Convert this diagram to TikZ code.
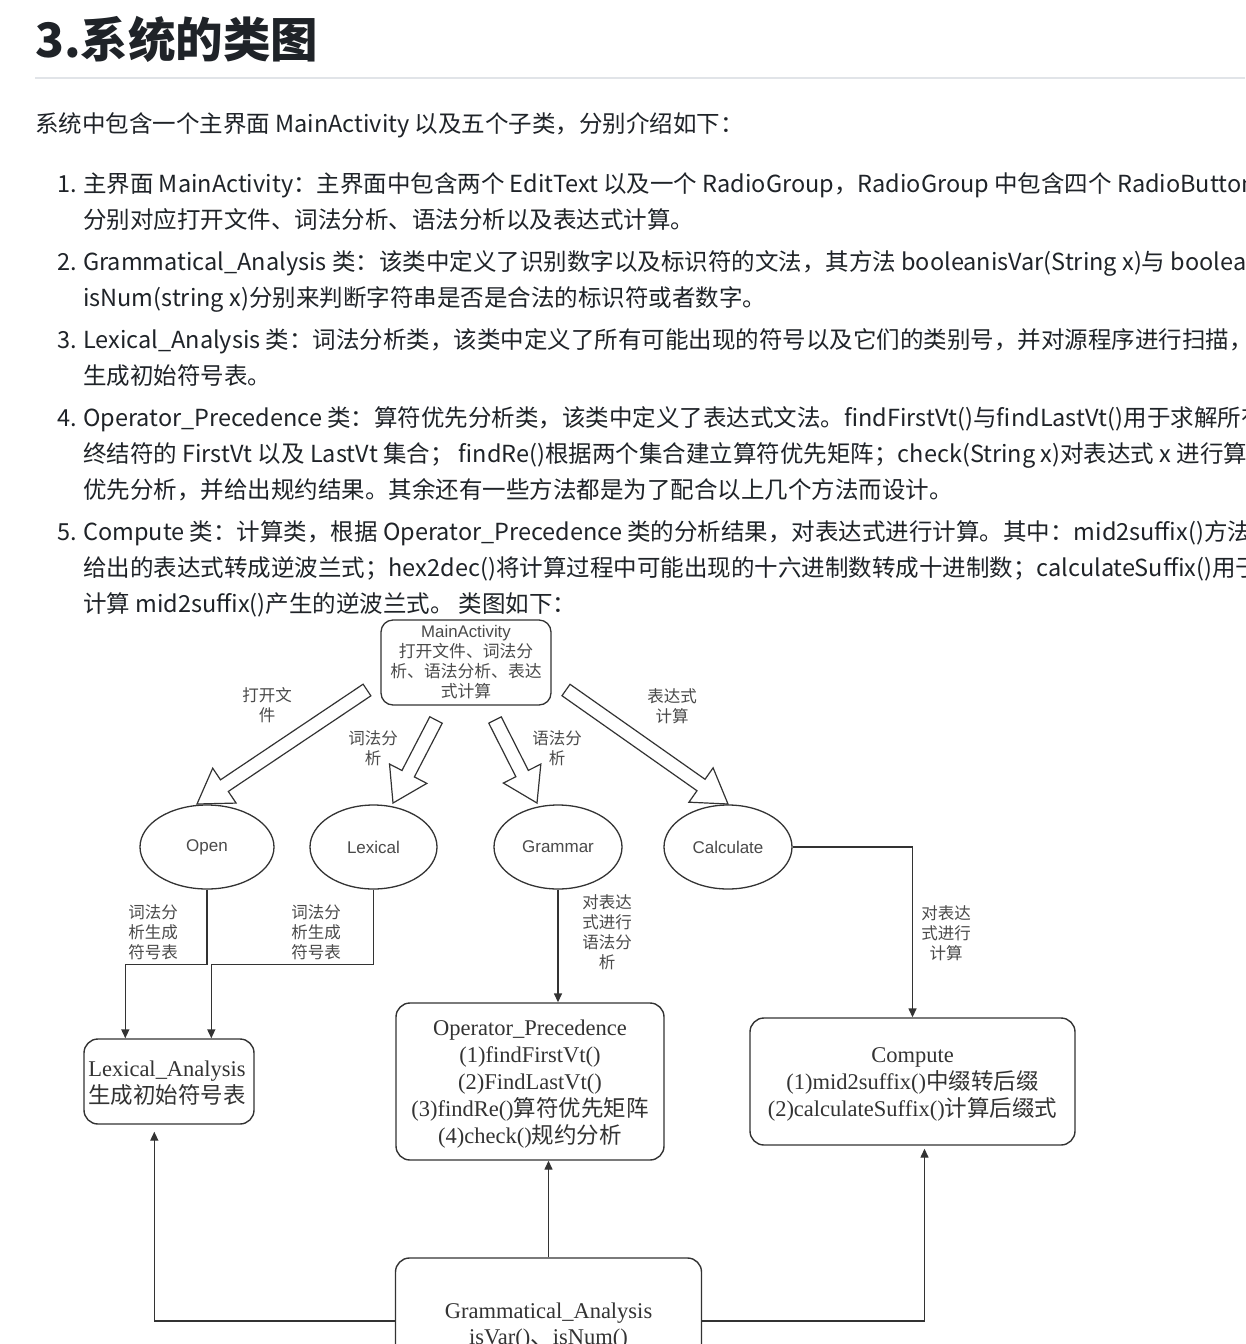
\documentclass[tikz,border=0pt]{standalone}
\usepackage{fontspec}
\setmainfont{Noto Sans CJK SC}
\newfontfamily\cjk{Noto Sans CJK SC}
\newfontfamily\tnr{Liberation Serif}
\newfontfamily\arl{Liberation Sans}
\usetikzlibrary{shapes.geometric,calc,arrows.meta}
\definecolor{txt}{HTML}{1F2328}
\definecolor{rulec}{HTML}{E1E4E8}
\definecolor{dline}{HTML}{333333}
\definecolor{dtxt}{HTML}{4A4A4A}
\newcommand\blockarrow[3]{%
  \coordinate (#3h) at ($(#2)!33pt!(#1)$);
  \draw[blk] ($(#1)!7pt!90:(#2)$) -- ($(#3h)!7pt!90:(#2)$) -- ($(#3h)!21pt!90:(#2)$)
    -- (#2) -- ($(#3h)!21pt!-90:(#2)$) -- ($(#3h)!7pt!-90:(#2)$) -- ($(#1)!7pt!-90:(#2)$) -- cycle;}
\begin{document}
\begin{tikzpicture}[x=1pt,y=-1pt,
  body/.style={anchor=base west,inner sep=0pt,text=txt,font=\fontsize{23.5}{28}\selectfont},
  num/.style={anchor=base east,inner sep=0pt,text=txt,font=\fontsize{23.5}{28}\selectfont},
  lbl/.style={inner sep=0pt,text=dtxt,align=center,font=\cjk\fontsize{16.5}{20}\selectfont},
  ell/.style={ellipse,draw=dline,line width=1.3pt,minimum width=130pt,minimum height=84pt,inner sep=0pt,text=dtxt,font=\arl\fontsize{17}{20}\selectfont},
  cls/.style={rectangle,rounded corners=14pt,draw=dline,line width=1.4pt,fill=white,inner sep=0pt},
  clstxt/.style={inner sep=0pt,text=dline,align=center,font=\fontsize{22.5}{26.8}\selectfont},
  blk/.style={draw=dline,line width=1.2pt,fill=white,line join=miter},
  conn/.style={draw=dline,line width=1.4pt,-{Triangle[length=9pt,width=8pt]}}]
\useasboundingbox (0,0) rectangle (1245,1344);
\clip (0,0) rectangle (1245,1344);
\fill[white] (0,0) rectangle (1245,1344);
% heading
\node[anchor=base west,inner sep=0pt,text=txt,font=\fontsize{47.5}{50}\selectfont\bfseries] (title) at (35,57) {3.系统的类图};
\draw[rulec,line width=1.5pt] (35,78) -- (1245,78);
\node[body] (intro) at (35,132) {系统中包含一个主界面 MainActivity 以及五个子类，分别介绍如下：};
% list
\node[num] (n1) at (77,192) {1.};
\node[body] (l1a) at (83,192) {主界面 MainActivity：主界面中包含两个 EditText 以及一个 RadioGroup，RadioGroup 中包含四个 RadioButton};
\node[body] (l1b) at (83,228) {分别对应打开文件、词法分析、语法分析以及表达式计算。};
\node[num] (n2) at (77,270) {2.};
\node[body] (l2a) at (83,270) {Grammatical\_Analysis 类：该类中定义了识别数字以及标识符的文法，其方法 booleanisVar(String x)与 boolean};
\node[body] (l2b) at (83,306) {isNum(string x)分别来判断字符串是否是合法的标识符或者数字。};
\node[num] (n3) at (77,348) {3.};
\node[body] (l3a) at (83,348) {Lexical\_Analysis 类：词法分析类，该类中定义了所有可能出现的符号以及它们的类别号，并对源程序进行扫描，};
\node[body] (l3b) at (83,384) {生成初始符号表。};
\node[num] (n4) at (77,426) {4.};
\node[body] (l4a) at (83,426) {Operator\_Precedence 类：算符优先分析类，该类中定义了表达式文法。findFirstVt()与findLastVt()用于求解所有};
\node[body] (l4b) at (83,462) {终结符的 FirstVt 以及 LastVt 集合； findRe()根据两个集合建立算符优先矩阵；check(String x)对表达式 x 进行算};
\node[body] (l4c) at (83,498) {优先分析，并给出规约结果。其余还有一些方法都是为了配合以上几个方法而设计。};
\node[num] (n5) at (77,540) {5.};
\node[body] (l5a) at (83,540) {Compute 类：计算类，根据 Operator\_Precedence 类的分析结果，对表达式进行计算。其中：mid2suffix()方法};
\node[body] (l5b) at (83,576) {给出的表达式转成逆波兰式；hex2dec()将计算过程中可能出现的十六进制数转成十进制数；calculateSuffix()用于};
\node[body] (l5c) at (83,612) {计算 mid2suffix()产生的逆波兰式。 类图如下：};
% diagram: main box
\node[rectangle,rounded corners=12pt,draw=dline,line width=1.3pt,fill=white,minimum width=170pt,minimum height=85pt,inner sep=0pt,text=dtxt,align=center,font=\fontsize{16.8}{20}\selectfont] (main) at (466,662.5)
  {{\arl MainActivity}\\打开文件、词法分\\析、语法分析、表达\\式计算};
% ellipses
\node[ell,minimum width=134pt] (open) at (207,847) {Open};
\node[ell,minimum width=127pt] (lex) at (373.5,847) {Lexical};
\node[ell,minimum width=128pt] (gram) at (558,847) {Grammar};
\node[ell,minimum width=128pt] (calc) at (728,847) {Calculate};
% block arrows
\coordinate (ta1) at (367,690); \coordinate (tp1) at (197,804);
\coordinate (ta2) at (436,720); \coordinate (tp2) at (393,803);
\coordinate (ta3) at (495,720); \coordinate (tp3) at (537,803);
\coordinate (ta4) at (566,690); \coordinate (tp4) at (728,804);
\blockarrow{ta1}{tp1}{ba1}
\blockarrow{ta2}{tp2}{ba2}
\blockarrow{ta3}{tp3}{ba3}
\blockarrow{ta4}{tp4}{ba4}
\node[lbl] (bl1) at (267,705) {打开文\\件};
\node[lbl] (bl2) at (373,748) {词法分\\析};
\node[lbl] (bl3) at (557,748) {语法分\\析};
\node[lbl] (bl4) at (672,706) {表达式\\计算};
% class boxes
\node[cls,minimum width=170pt,minimum height=85pt] (lexan) at (169,1081.5) {};
\node[clstxt] (lexant) at (167,1083.5) {{\tnr Lexical\_Analysis}\\生成初始符号表};
\node[cls,minimum width=268pt,minimum height=157pt] (opp) at (530,1081.5) {};
\node[clstxt] (oppt) at (530,1084)
  {{\tnr Operator\_Precedence}\\{\tnr (1)findFirstVt()}\\{\tnr (2)FindLastVt()}\\{\tnr (3)findRe()}算符优先矩阵\\{\tnr (4)check()}规约分析};
\node[cls,minimum width=325pt,minimum height=127pt] (comp) at (912.5,1081.5) {};
\node[clstxt] (compt) at (912.5,1084.5)
  {{\tnr Compute}\\{\tnr (1)mid2suffix()}中缀转后缀\\{\tnr (2)calculateSuffix()}计算后缀式};
\node[cls,minimum width=306pt,minimum height=126pt] (gan) at (548.5,1321) {};
\node[clstxt] (gant) at (548.5,1326)
  {{\tnr Grammatical\_Analysis}\\{\tnr isVar()}、{\tnr isNum()}};
% connectors
\draw[conn] (open.south) -- ++(0,75) -| ([xshift=42pt]lexan.north west);
\draw[conn] (lex.south) -- ++(0,75) -| ([xshift=128pt]lexan.north west);
\draw[conn] (gram.south) -- (gram.south |- opp.north);
\draw[conn] (calc.east) -| (comp.north);
\draw[conn] (gan.north) -- (gan.north |- opp.south);
\draw[conn] (gan.west) -| ([xshift=71pt,yshift=-7pt]lexan.south west);
\draw[conn] (gan.east) -| ([xshift=12pt,yshift=-3pt]comp.south);
% connector labels
\node[lbl] (cl1) at (153,932) {词法分\\析生成\\符号表};
\node[lbl] (cl2) at (316,932) {词法分\\析生成\\符号表};
\node[lbl] (cl3) at (607,932) {对表达\\式进行\\语法分\\析};
\node[lbl] (cl4) at (946,933) {对表达\\式进行\\计算};
\end{tikzpicture}
\end{document}
